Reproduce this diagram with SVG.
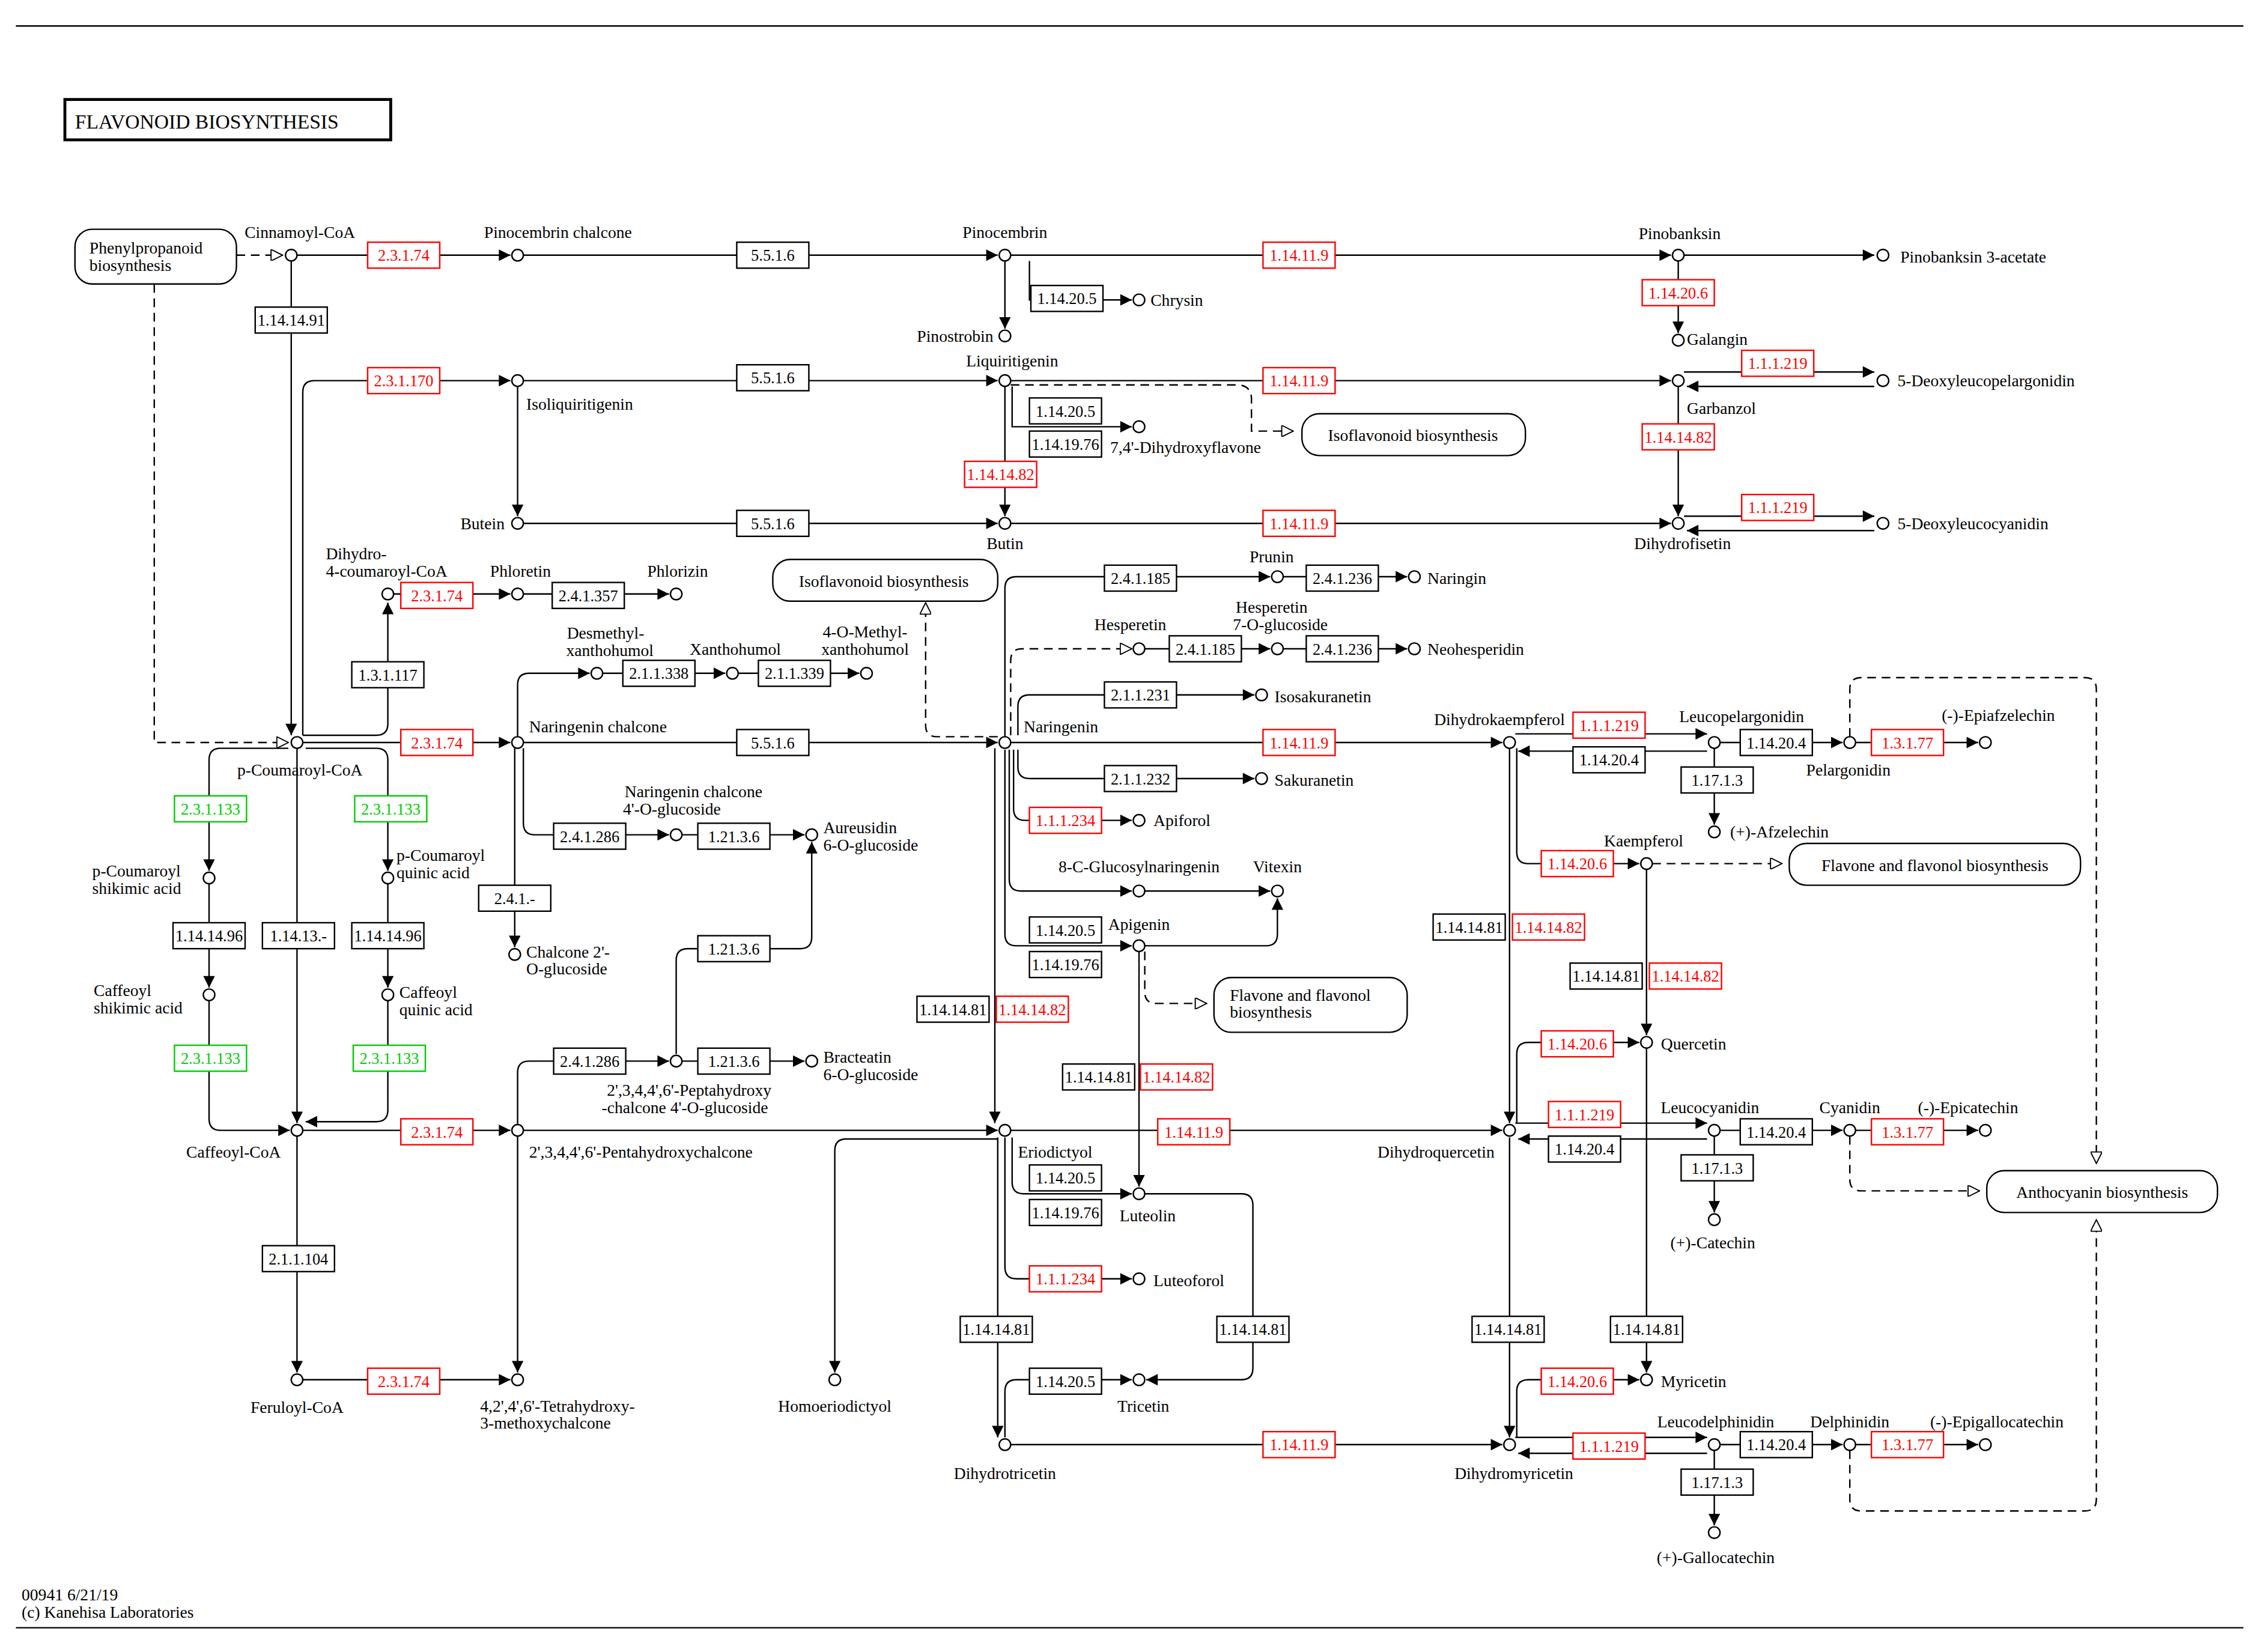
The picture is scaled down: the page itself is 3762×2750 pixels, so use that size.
<svg xmlns="http://www.w3.org/2000/svg" width="3762" height="2750" viewBox="0 0 3762 2750">
<style>
text{font-family:"Liberation Serif","DejaVu Serif",serif;font-size:11.5px;fill:#000}
.m{text-anchor:middle}
.e rect{fill:#fff;stroke:#000;stroke-width:1}
.e text{text-anchor:middle;font-size:11px}
.r rect{stroke:#f00}.r text{fill:#f00}
.g rect{stroke:#0c0}.g text{fill:#0c0}
.c{fill:#fff;stroke:#000;stroke-width:1}
.mp rect{fill:#fff;stroke:#000;stroke-width:1}
#conn path{fill:none;stroke:#000;stroke-width:1;marker-end:url(#a)}
#conn path.d{stroke-dasharray:6,4;marker-end:url(#o)}
</style>
<defs>
<marker id="a" viewBox="0 0 10 10" refX="10" refY="5" markerWidth="9" markerHeight="8" orient="auto" markerUnits="userSpaceOnUse"><path d="M0,0L10,5L0,10z" fill="#000"/></marker>
<marker id="o" viewBox="0 0 10 10" refX="10" refY="5" markerWidth="9" markerHeight="8" orient="auto" markerUnits="userSpaceOnUse"><path d="M0,0L10,5L0,10z" fill="#fff" stroke="#000"/></marker>
</defs>
<rect width="3762" height="2750" fill="#fff"/>
<g transform="scale(2.4)">
<line x1="11" y1="18" x2="1556" y2="18" stroke="#000"/>
<line x1="11" y1="1129" x2="1556" y2="1129" stroke="#000"/>
<g id="title"><rect x="45" y="69" width="226" height="28" fill="#fff" stroke="#000" stroke-width="2"/><text x="52" y="89" style="font-size:14px">FLAVONOID  BIOSYNTHESIS</text></g>
<text x="15" y="1110">00941 6/21/19</text><text x="15" y="1122">(c) Kanehisa Laboratories</text>

<g id="conn">
<path class="d" d="M164,177H196"/>
<path d="M206,177H354"/><path d="M363,177H692"/><path d="M701,177H1159"/><path d="M1168,177H1300"/>
<path d="M697,181V228"/><path d="M714,181V208H785"/><path d="M1164,181V231"/>
<path class="d" d="M107,197V515H200"/>
<path d="M202,181V510"/>
<path d="M210,510V272Q210,264 218,264H354"/>
<path d="M363,264H692"/><path d="M701,264H1159"/><path d="M359,268V358"/>
<path d="M1168,258H1300"/><path d="M1300,268H1170"/>
<path d="M702,268V296H785"/>
<path class="d" d="M701,267H858Q868,267 868,277V299H897"/>
<path d="M697,268V358"/><path d="M1164,268V358"/>
<path d="M363,363H692"/><path d="M701,363H1159"/>
<path d="M1168,358H1300"/><path d="M1300,368H1170"/>
<path d="M210,510H261Q269,510 269,502V418"/>
<path d="M273,412H354"/><path d="M363,412H464"/>
<path d="M210,515H354"/><path d="M363,515H692"/><path d="M701,515H1042"/>
<path d="M359,511V475Q359,467 367,467H409"/>
<path d="M418,467H503"/><path d="M512,467H596"/>
<path d="M363,519V571Q363,579 371,579H464"/><path d="M473,579H558"/>
<path d="M357,519V657"/>
<path d="M469,731V666Q469,658 477,658H555Q563,658 563,650V584"/>
<path d="M359,780V744Q359,736 367,736H464"/><path d="M473,736H558"/>
<path d="M200,519H153Q145,519 145,527V604"/><path d="M212,519H261Q269,519 269,527V604"/>
<path d="M145,613V685"/><path d="M269,613V685"/>
<path d="M145,694V776Q145,784 153,784H201"/>
<path d="M269,694V770Q269,778 261,778H212"/>
<path d="M206,519V779"/>
<path d="M210,784H354"/><path d="M363,784H692"/><path d="M701,784H1042"/>
<path d="M206,788V952"/><path d="M210,957H354"/><path d="M359,788V952"/>
<path d="M692,790H587Q579,790 579,798V952"/>
<path d="M690,519V779"/>
<path class="d" d="M692,511H650Q642,511 642,503V418"/>
<path d="M697,511V408Q697,400 705,400H881"/><path d="M890,400H976"/>
<path class="d" d="M701,510V458Q701,450 709,450H785"/>
<path d="M794,450H881"/><path d="M890,450H976"/>
<path d="M706,510V490Q706,482 714,482H870"/>
<path d="M706,520V532Q706,540 714,540H870"/>
<path d="M703,520V561Q703,569 711,569H785"/>
<path d="M700,520V610Q700,618 708,618H785"/><path d="M794,618H881"/>
<path d="M697,520V648Q697,656 705,656H785"/>
<path d="M794,656H878Q886,656 886,648V623"/>
<path class="d" d="M794,660V688Q794,696 802,696H837"/>
<path d="M790,660V823"/>
<path d="M702,789V820Q702,828 710,828H785"/>
<path d="M697,789V879Q697,887 705,887H785"/>
<path d="M794,828H861Q869,828 869,836V949Q869,957 861,957H795"/>
<path d="M692,789V997"/>
<path d="M697,997V965Q697,957 705,957H785"/>
<path d="M701,1002H1042"/>
<path d="M1047,519V779"/>
<path d="M1052,519V591Q1052,599 1060,599H1137"/>
<path class="d" d="M1146,599H1236"/>
<path d="M1142,603V718"/>
<path d="M1052,779V731Q1052,723 1060,723H1137"/>
<path d="M1142,727V952"/>
<path d="M1047,789V997"/>
<path d="M1052,997V965Q1052,957 1060,957H1137"/>
<path d="M1051,509H1184"/><path d="M1184,521H1053"/>
<path d="M1193,515H1278"/><path d="M1287,515H1372"/><path d="M1189,519V572"/>
<path class="d" d="M1283,511V478Q1283,470 1291,470H1446Q1454,470 1454,478V807"/>
<path d="M1051,779H1184"/><path d="M1184,790H1053"/>
<path d="M1193,784H1278"/><path d="M1287,784H1372"/><path d="M1189,788V841"/>
<path class="d" d="M1283,788V818Q1283,826 1291,826H1373"/>
<path d="M1051,997H1184"/><path d="M1184,1008H1053"/>
<path d="M1193,1002H1278"/><path d="M1287,1002H1372"/><path d="M1189,1006V1058"/>
<path class="d" d="M1283,1006V1040Q1283,1048 1291,1048H1446Q1454,1048 1454,1040V846"/>
</g>

<g id="maps">
<g id="m1" class="mp"><rect x="52" y="159" width="112" height="38" rx="12"/><text x="62" y="176">Phenylpropanoid</text><text x="62" y="188">biosynthesis</text></g>
<g id="m2" class="mp"><rect x="903" y="287" width="155" height="29" rx="12"/><text class="m" x="980" y="306">Isoflavonoid biosynthesis</text></g>
<g id="m3" class="mp"><rect x="536" y="388" width="156" height="29" rx="12"/><text class="m" x="613" y="407">Isoflavonoid biosynthesis</text></g>
<g id="m4" class="mp"><rect x="1241" y="585" width="202" height="29" rx="12"/><text class="m" x="1342" y="604">Flavone and flavonol biosynthesis</text></g>
<g id="m5" class="mp"><rect x="842" y="678" width="134" height="38" rx="12"/><text x="853" y="694">Flavone and flavonol</text><text x="853" y="706">biosynthesis</text></g>
<g id="m6" class="mp"><rect x="1378" y="812" width="160" height="29" rx="12"/><text class="m" x="1458" y="831">Anthocyanin biosynthesis</text></g>
</g>

<g id="compounds">
<g id="c1"><circle class="c" cx="202" cy="177" r="4"/><text class="m" x="208" y="165">Cinnamoyl-CoA</text></g>
<g id="c2"><circle class="c" cx="359" cy="177" r="4"/><text class="m" x="387" y="165">Pinocembrin chalcone</text></g>
<g id="c3"><circle class="c" cx="697" cy="177" r="4"/><text class="m" x="697" y="165">Pinocembrin</text></g>
<g id="c4"><circle class="c" cx="1164" cy="177" r="4"/><text class="m" x="1165" y="166">Pinobanksin</text></g>
<g id="c5"><circle class="c" cx="1306" cy="177" r="4"/><text x="1318" y="182">Pinobanksin 3-acetate</text></g>
<g id="c6"><circle class="c" cx="790" cy="208" r="4"/><text x="798" y="212">Chrysin</text></g>
<g id="c7"><circle class="c" cx="697" cy="233" r="4"/><text x="689" y="237" text-anchor="end">Pinostrobin</text></g>
<g id="c8"><circle class="c" cx="1164" cy="236" r="4"/><text x="1170" y="239">Galangin</text></g>
<g id="c9"><circle class="c" cx="359" cy="264" r="4"/><text x="365" y="284">Isoliquiritigenin</text></g>
<g id="c10"><circle class="c" cx="697" cy="264" r="4"/><text class="m" x="702" y="254">Liquiritigenin</text></g>
<g id="c11"><circle class="c" cx="1164" cy="264" r="4"/><text x="1170" y="287">Garbanzol</text></g>
<g id="c12"><circle class="c" cx="1306" cy="264" r="4"/><text x="1316" y="268">5-Deoxyleucopelargonidin</text></g>
<g id="c13"><circle class="c" cx="790" cy="296" r="4"/><text x="770" y="314">7,4'-Dihydroxyflavone</text></g>
<g id="c14"><circle class="c" cx="359" cy="363" r="4"/><text x="350" y="367" text-anchor="end">Butein</text></g>
<g id="c15"><circle class="c" cx="697" cy="363" r="4"/><text class="m" x="697" y="381">Butin</text></g>
<g id="c16"><circle class="c" cx="1164" cy="363" r="4"/><text class="m" x="1167" y="381">Dihydrofisetin</text></g>
<g id="c17"><circle class="c" cx="1306" cy="363" r="4"/><text x="1316" y="367">5-Deoxyleucocyanidin</text></g>
<g id="c18"><circle class="c" cx="269" cy="412" r="4"/><text x="226" y="388">Dihydro-</text><text x="226" y="400">4-coumaroyl-CoA</text></g>
<g id="c19"><circle class="c" cx="359" cy="412" r="4"/><text class="m" x="361" y="400">Phloretin</text></g>
<g id="c20"><circle class="c" cx="469" cy="412" r="4"/><text class="m" x="470" y="400">Phlorizin</text></g>
<g id="c21"><circle class="c" cx="886" cy="400" r="4"/><text class="m" x="882" y="390">Prunin</text></g>
<g id="c22"><circle class="c" cx="981" cy="400" r="4"/><text x="990" y="405">Naringin</text></g>
<g id="c23"><circle class="c" cx="414" cy="467" r="4"/><text class="m" x="420" y="443">Desmethyl-</text><text class="m" x="423" y="455">xanthohumol</text></g>
<g id="c24"><circle class="c" cx="508" cy="467" r="4"/><text class="m" x="510" y="454">Xanthohumol</text></g>
<g id="c25"><circle class="c" cx="601" cy="467" r="4"/><text class="m" x="600" y="442">4-O-Methyl-</text><text class="m" x="600" y="454">xanthohumol</text></g>
<g id="c26"><circle class="c" cx="790" cy="450" r="4"/><text class="m" x="784" y="437">Hesperetin</text></g>
<g id="c27"><circle class="c" cx="886" cy="450" r="4"/><text class="m" x="882" y="425">Hesperetin</text><text class="m" x="888" y="437">7-O-glucoside</text></g>
<g id="c28"><circle class="c" cx="981" cy="450" r="4"/><text x="990" y="454">Neohesperidin</text></g>
<g id="c29"><circle class="c" cx="875" cy="482" r="4"/><text x="884" y="487">Isosakuranetin</text></g>
<g id="c30"><circle class="c" cx="206" cy="515" r="4"/><text class="m" x="208" y="538">p-Coumaroyl-CoA</text></g>
<g id="c31"><circle class="c" cx="359" cy="515" r="4"/><text x="367" y="508">Naringenin chalcone</text></g>
<g id="c32"><circle class="c" cx="697" cy="515" r="4"/><text x="710" y="508">Naringenin</text></g>
<g id="c33"><circle class="c" cx="1047" cy="515" r="4"/><text class="m" x="1040" y="503">Dihydrokaempferol</text></g>
<g id="c34"><circle class="c" cx="1189" cy="515" r="4"/><text class="m" x="1208" y="501">Leucopelargonidin</text></g>
<g id="c35"><circle class="c" cx="1283" cy="515" r="4"/><text class="m" x="1282" y="538">Pelargonidin</text></g>
<g id="c36"><circle class="c" cx="1377" cy="515" r="4"/><text class="m" x="1386" y="500">(-)-Epiafzelechin</text></g>
<g id="c37"><circle class="c" cx="875" cy="540" r="4"/><text x="884" y="545">Sakuranetin</text></g>
<g id="c38"><circle class="c" cx="1189" cy="577" r="4"/><text x="1200" y="581">(+)-Afzelechin</text></g>
<g id="c39"><circle class="c" cx="469" cy="579" r="4"/><text class="m" x="481" y="553">Naringenin chalcone</text><text class="m" x="466" y="565">4'-O-glucoside</text></g>
<g id="c40"><circle class="c" cx="563" cy="579" r="4"/><text x="571" y="578">Aureusidin</text><text x="571" y="590">6-O-glucoside</text></g>
<g id="c41"><circle class="c" cx="790" cy="569" r="4"/><text x="800" y="573">Apiforol</text></g>
<g id="c42"><circle class="c" cx="1142" cy="599" r="4"/><text class="m" x="1140" y="587">Kaempferol</text></g>
<g id="c43"><circle class="c" cx="145" cy="609" r="4"/><text x="64" y="608">p-Coumaroyl</text><text x="64" y="620">shikimic acid</text></g>
<g id="c44"><circle class="c" cx="269" cy="609" r="4"/><text x="275" y="597">p-Coumaroyl</text><text x="275" y="609">quinic acid</text></g>
<g id="c45"><circle class="c" cx="790" cy="618" r="4"/><text class="m" x="790" y="605">8-C-Glucosylnaringenin</text></g>
<g id="c46"><circle class="c" cx="886" cy="618" r="4"/><text class="m" x="886" y="605">Vitexin</text></g>
<g id="c47"><circle class="c" cx="357" cy="662" r="4"/><text x="365" y="664">Chalcone 2'-</text><text x="365" y="676">O-glucoside</text></g>
<g id="c48"><circle class="c" cx="790" cy="656" r="4"/><text class="m" x="790" y="645">Apigenin</text></g>
<g id="c49"><circle class="c" cx="145" cy="690" r="4"/><text x="65" y="691">Caffeoyl</text><text x="65" y="703">shikimic acid</text></g>
<g id="c50"><circle class="c" cx="269" cy="690" r="4"/><text x="277" y="692">Caffeoyl</text><text x="277" y="704">quinic acid</text></g>
<g id="c51"><circle class="c" cx="1142" cy="723" r="4"/><text x="1152" y="728">Quercetin</text></g>
<g id="c52"><circle class="c" cx="469" cy="736" r="4"/><text class="m" x="478" y="760">2',3,4,4',6'-Peptahydroxy</text><text class="m" x="475" y="772">-chalcone 4'-O-glucoside</text></g>
<g id="c53"><circle class="c" cx="563" cy="736" r="4"/><text x="571" y="737">Bracteatin</text><text x="571" y="749">6-O-glucoside</text></g>
<g id="c54"><circle class="c" cx="206" cy="784" r="4"/><text class="m" x="162" y="803">Caffeoyl-CoA</text></g>
<g id="c55"><circle class="c" cx="359" cy="784" r="4"/><text x="367" y="803">2',3,4,4',6'-Pentahydroxychalcone</text></g>
<g id="c56"><circle class="c" cx="697" cy="784" r="4"/><text x="706" y="803">Eriodictyol</text></g>
<g id="c57"><circle class="c" cx="1047" cy="784" r="4"/><text class="m" x="996" y="803">Dihydroquercetin</text></g>
<g id="c58"><circle class="c" cx="1189" cy="784" r="4"/><text class="m" x="1186" y="772">Leucocyanidin</text></g>
<g id="c59"><circle class="c" cx="1283" cy="784" r="4"/><text class="m" x="1283" y="772">Cyanidin</text></g>
<g id="c60"><circle class="c" cx="1377" cy="784" r="4"/><text class="m" x="1365" y="772">(-)-Epicatechin</text></g>
<g id="c61"><circle class="c" cx="790" cy="828" r="4"/><text class="m" x="796" y="847">Luteolin</text></g>
<g id="c62"><circle class="c" cx="1189" cy="846" r="4"/><text class="m" x="1188" y="866">(+)-Catechin</text></g>
<g id="c63"><circle class="c" cx="790" cy="887" r="4"/><text x="800" y="892">Luteoforol</text></g>
<g id="c64"><circle class="c" cx="206" cy="957" r="4"/><text class="m" x="206" y="980">Feruloyl-CoA</text></g>
<g id="c65"><circle class="c" cx="359" cy="957" r="4"/><text x="333" y="979">4,2',4',6'-Tetrahydroxy-</text><text x="333" y="991">3-methoxychalcone</text></g>
<g id="c66"><circle class="c" cx="579" cy="957" r="4"/><text class="m" x="579" y="979">Homoeriodictyol</text></g>
<g id="c67"><circle class="c" cx="790" cy="957" r="4"/><text class="m" x="793" y="979">Tricetin</text></g>
<g id="c68"><circle class="c" cx="1142" cy="957" r="4"/><text x="1152" y="962">Myricetin</text></g>
<g id="c69"><circle class="c" cx="697" cy="1002" r="4"/><text class="m" x="697" y="1026">Dihydrotricetin</text></g>
<g id="c70"><circle class="c" cx="1047" cy="1002" r="4"/><text class="m" x="1050" y="1026">Dihydromyricetin</text></g>
<g id="c71"><circle class="c" cx="1189" cy="1002" r="4"/><text class="m" x="1190" y="990">Leucodelphinidin</text></g>
<g id="c72"><circle class="c" cx="1283" cy="1002" r="4"/><text class="m" x="1283" y="990">Delphinidin</text></g>
<g id="c73"><circle class="c" cx="1377" cy="1002" r="4"/><text class="m" x="1385" y="990">(-)-Epigallocatechin</text></g>
<g id="c74"><circle class="c" cx="1189" cy="1063" r="4"/><text class="m" x="1190" y="1084">(+)-Gallocatechin</text></g>
</g>

<g id="enzymes">
<g id="e1" class="e r" transform="translate(280,177)"><rect x="-25" y="-9" width="50" height="18"/><text y="4">2.3.1.74</text></g>
<g id="e2" class="e" transform="translate(536,177)"><rect x="-25" y="-9" width="50" height="18"/><text y="4">5.5.1.6</text></g>
<g id="e3" class="e r" transform="translate(901,177)"><rect x="-25" y="-9" width="50" height="18"/><text y="4">1.14.11.9</text></g>
<g id="e4" class="e r" transform="translate(1164,203)"><rect x="-25" y="-9" width="50" height="18"/><text y="4">1.14.20.6</text></g>
<g id="e5" class="e" transform="translate(740,207)"><rect x="-25" y="-9" width="50" height="18"/><text y="4">1.14.20.5</text></g>
<g id="e6" class="e" transform="translate(202,222)"><rect x="-25" y="-9" width="50" height="18"/><text y="4">1.14.14.91</text></g>
<g id="e7" class="e r" transform="translate(280,264)"><rect x="-25" y="-9" width="50" height="18"/><text y="4">2.3.1.170</text></g>
<g id="e8" class="e" transform="translate(536,262)"><rect x="-25" y="-9" width="50" height="18"/><text y="4">5.5.1.6</text></g>
<g id="e9" class="e r" transform="translate(901,264)"><rect x="-25" y="-9" width="50" height="18"/><text y="4">1.14.11.9</text></g>
<g id="e10" class="e r" transform="translate(1233,252)"><rect x="-25" y="-9" width="50" height="18"/><text y="4">1.1.1.219</text></g>
<g id="e11" class="e" transform="translate(739,285)"><rect x="-25" y="-9" width="50" height="18"/><text y="4">1.14.20.5</text></g>
<g id="e12" class="e" transform="translate(739,308)"><rect x="-25" y="-9" width="50" height="18"/><text y="4">1.14.19.76</text></g>
<g id="e13" class="e r" transform="translate(1164,303)"><rect x="-25" y="-9" width="50" height="18"/><text y="4">1.14.14.82</text></g>
<g id="e14" class="e r" transform="translate(694,329)"><rect x="-25" y="-9" width="50" height="18"/><text y="4">1.14.14.82</text></g>
<g id="e15" class="e" transform="translate(536,363)"><rect x="-25" y="-9" width="50" height="18"/><text y="4">5.5.1.6</text></g>
<g id="e16" class="e r" transform="translate(901,363)"><rect x="-25" y="-9" width="50" height="18"/><text y="4">1.14.11.9</text></g>
<g id="e17" class="e r" transform="translate(1233,352)"><rect x="-25" y="-9" width="50" height="18"/><text y="4">1.1.1.219</text></g>
<g id="e18" class="e" transform="translate(791,401)"><rect x="-25" y="-9" width="50" height="18"/><text y="4">2.4.1.185</text></g>
<g id="e19" class="e" transform="translate(931,401)"><rect x="-25" y="-9" width="50" height="18"/><text y="4">2.4.1.236</text></g>
<g id="e20" class="e r" transform="translate(303,413)"><rect x="-25" y="-9" width="50" height="18"/><text y="4">2.3.1.74</text></g>
<g id="e21" class="e" transform="translate(408,413)"><rect x="-25" y="-9" width="50" height="18"/><text y="4">2.4.1.357</text></g>
<g id="e22" class="e" transform="translate(269,468)"><rect x="-25" y="-9" width="50" height="18"/><text y="4">1.3.1.117</text></g>
<g id="e23" class="e" transform="translate(457,467)"><rect x="-25" y="-9" width="50" height="18"/><text y="4">2.1.1.338</text></g>
<g id="e24" class="e" transform="translate(551,467)"><rect x="-25" y="-9" width="50" height="18"/><text y="4">2.1.1.339</text></g>
<g id="e25" class="e" transform="translate(836,450)"><rect x="-25" y="-9" width="50" height="18"/><text y="4">2.4.1.185</text></g>
<g id="e26" class="e" transform="translate(931,450)"><rect x="-25" y="-9" width="50" height="18"/><text y="4">2.4.1.236</text></g>
<g id="e27" class="e" transform="translate(791,482)"><rect x="-25" y="-9" width="50" height="18"/><text y="4">2.1.1.231</text></g>
<g id="e28" class="e r" transform="translate(303,515)"><rect x="-25" y="-9" width="50" height="18"/><text y="4">2.3.1.74</text></g>
<g id="e29" class="e" transform="translate(536,515)"><rect x="-25" y="-9" width="50" height="18"/><text y="4">5.5.1.6</text></g>
<g id="e30" class="e r" transform="translate(901,515)"><rect x="-25" y="-9" width="50" height="18"/><text y="4">1.14.11.9</text></g>
<g id="e31" class="e r" transform="translate(1116,503)"><rect x="-25" y="-9" width="50" height="18"/><text y="4">1.1.1.219</text></g>
<g id="e32" class="e" transform="translate(1116,527)"><rect x="-25" y="-9" width="50" height="18"/><text y="4">1.14.20.4</text></g>
<g id="e33" class="e" transform="translate(1232,515)"><rect x="-25" y="-9" width="50" height="18"/><text y="4">1.14.20.4</text></g>
<g id="e34" class="e r" transform="translate(1323,515)"><rect x="-25" y="-9" width="50" height="18"/><text y="4">1.3.1.77</text></g>
<g id="e35" class="e" transform="translate(791,540)"><rect x="-25" y="-9" width="50" height="18"/><text y="4">2.1.1.232</text></g>
<g id="e36" class="e" transform="translate(1191,541)"><rect x="-25" y="-9" width="50" height="18"/><text y="4">1.17.1.3</text></g>
<g id="e37" class="e g" transform="translate(146,561)"><rect x="-25" y="-9" width="50" height="18"/><text y="4">2.3.1.133</text></g>
<g id="e38" class="e g" transform="translate(271,561)"><rect x="-25" y="-9" width="50" height="18"/><text y="4">2.3.1.133</text></g>
<g id="e39" class="e" transform="translate(409,580)"><rect x="-25" y="-9" width="50" height="18"/><text y="4">2.4.1.286</text></g>
<g id="e40" class="e" transform="translate(509,580)"><rect x="-25" y="-9" width="50" height="18"/><text y="4">1.21.3.6</text></g>
<g id="e41" class="e r" transform="translate(739,569)"><rect x="-25" y="-9" width="50" height="18"/><text y="4">1.1.1.234</text></g>
<g id="e42" class="e r" transform="translate(1094,599)"><rect x="-25" y="-9" width="50" height="18"/><text y="4">1.14.20.6</text></g>
<g id="e43" class="e" transform="translate(357,623)"><rect x="-25" y="-9" width="50" height="18"/><text y="4">2.4.1.-</text></g>
<g id="e44" class="e" transform="translate(145,649)"><rect x="-25" y="-9" width="50" height="18"/><text y="4">1.14.14.96</text></g>
<g id="e45" class="e" transform="translate(207,649)"><rect x="-25" y="-9" width="50" height="18"/><text y="4">1.14.13.-</text></g>
<g id="e46" class="e" transform="translate(269,649)"><rect x="-25" y="-9" width="50" height="18"/><text y="4">1.14.14.96</text></g>
<g id="e47" class="e" transform="translate(739,645)"><rect x="-25" y="-9" width="50" height="18"/><text y="4">1.14.20.5</text></g>
<g id="e48" class="e" transform="translate(739,669)"><rect x="-25" y="-9" width="50" height="18"/><text y="4">1.14.19.76</text></g>
<g id="e49" class="e" transform="translate(1019,643)"><rect x="-25" y="-9" width="50" height="18"/><text y="4">1.14.14.81</text></g>
<g id="e50" class="e r" transform="translate(1074,643)"><rect x="-25" y="-9" width="50" height="18"/><text y="4">1.14.14.82</text></g>
<g id="e51" class="e" transform="translate(509,658)"><rect x="-25" y="-9" width="50" height="18"/><text y="4">1.21.3.6</text></g>
<g id="e52" class="e" transform="translate(1114,677)"><rect x="-25" y="-9" width="50" height="18"/><text y="4">1.14.14.81</text></g>
<g id="e53" class="e r" transform="translate(1169,677)"><rect x="-25" y="-9" width="50" height="18"/><text y="4">1.14.14.82</text></g>
<g id="e54" class="e" transform="translate(661,700)"><rect x="-25" y="-9" width="50" height="18"/><text y="4">1.14.14.81</text></g>
<g id="e55" class="e r" transform="translate(716,700)"><rect x="-25" y="-9" width="50" height="18"/><text y="4">1.14.14.82</text></g>
<g id="e56" class="e g" transform="translate(146,734)"><rect x="-25" y="-9" width="50" height="18"/><text y="4">2.3.1.133</text></g>
<g id="e57" class="e g" transform="translate(270,734)"><rect x="-25" y="-9" width="50" height="18"/><text y="4">2.3.1.133</text></g>
<g id="e58" class="e" transform="translate(409,736)"><rect x="-25" y="-9" width="50" height="18"/><text y="4">2.4.1.286</text></g>
<g id="e59" class="e" transform="translate(509,736)"><rect x="-25" y="-9" width="50" height="18"/><text y="4">1.21.3.6</text></g>
<g id="e60" class="e r" transform="translate(1094,724)"><rect x="-25" y="-9" width="50" height="18"/><text y="4">1.14.20.6</text></g>
<g id="e61" class="e" transform="translate(762,747)"><rect x="-25" y="-9" width="50" height="18"/><text y="4">1.14.14.81</text></g>
<g id="e62" class="e r" transform="translate(816,747)"><rect x="-25" y="-9" width="50" height="18"/><text y="4">1.14.14.82</text></g>
<g id="e63" class="e r" transform="translate(303,785)"><rect x="-25" y="-9" width="50" height="18"/><text y="4">2.3.1.74</text></g>
<g id="e64" class="e r" transform="translate(828,785)"><rect x="-25" y="-9" width="50" height="18"/><text y="4">1.14.11.9</text></g>
<g id="e65" class="e r" transform="translate(1099,773)"><rect x="-25" y="-9" width="50" height="18"/><text y="4">1.1.1.219</text></g>
<g id="e66" class="e" transform="translate(1099,797)"><rect x="-25" y="-9" width="50" height="18"/><text y="4">1.14.20.4</text></g>
<g id="e67" class="e" transform="translate(1232,785)"><rect x="-25" y="-9" width="50" height="18"/><text y="4">1.14.20.4</text></g>
<g id="e68" class="e r" transform="translate(1323,785)"><rect x="-25" y="-9" width="50" height="18"/><text y="4">1.3.1.77</text></g>
<g id="e69" class="e" transform="translate(1191,810)"><rect x="-25" y="-9" width="50" height="18"/><text y="4">1.17.1.3</text></g>
<g id="e70" class="e" transform="translate(739,817)"><rect x="-25" y="-9" width="50" height="18"/><text y="4">1.14.20.5</text></g>
<g id="e71" class="e" transform="translate(739,841)"><rect x="-25" y="-9" width="50" height="18"/><text y="4">1.14.19.76</text></g>
<g id="e72" class="e" transform="translate(207,873)"><rect x="-25" y="-9" width="50" height="18"/><text y="4">2.1.1.104</text></g>
<g id="e73" class="e r" transform="translate(739,887)"><rect x="-25" y="-9" width="50" height="18"/><text y="4">1.1.1.234</text></g>
<g id="e74" class="e" transform="translate(691,922)"><rect x="-25" y="-9" width="50" height="18"/><text y="4">1.14.14.81</text></g>
<g id="e75" class="e" transform="translate(869,922)"><rect x="-25" y="-9" width="50" height="18"/><text y="4">1.14.14.81</text></g>
<g id="e76" class="e" transform="translate(1046,922)"><rect x="-25" y="-9" width="50" height="18"/><text y="4">1.14.14.81</text></g>
<g id="e77" class="e" transform="translate(1142,922)"><rect x="-25" y="-9" width="50" height="18"/><text y="4">1.14.14.81</text></g>
<g id="e78" class="e r" transform="translate(280,958)"><rect x="-25" y="-9" width="50" height="18"/><text y="4">2.3.1.74</text></g>
<g id="e79" class="e" transform="translate(739,958)"><rect x="-25" y="-9" width="50" height="18"/><text y="4">1.14.20.5</text></g>
<g id="e80" class="e r" transform="translate(1094,958)"><rect x="-25" y="-9" width="50" height="18"/><text y="4">1.14.20.6</text></g>
<g id="e81" class="e r" transform="translate(901,1002)"><rect x="-25" y="-9" width="50" height="18"/><text y="4">1.14.11.9</text></g>
<g id="e82" class="e r" transform="translate(1116,1003)"><rect x="-25" y="-9" width="50" height="18"/><text y="4">1.1.1.219</text></g>
<g id="e83" class="e" transform="translate(1232,1002)"><rect x="-25" y="-9" width="50" height="18"/><text y="4">1.14.20.4</text></g>
<g id="e84" class="e r" transform="translate(1323,1002)"><rect x="-25" y="-9" width="50" height="18"/><text y="4">1.3.1.77</text></g>
<g id="e85" class="e" transform="translate(1191,1028)"><rect x="-25" y="-9" width="50" height="18"/><text y="4">1.17.1.3</text></g>
</g>
</g>
</svg>
